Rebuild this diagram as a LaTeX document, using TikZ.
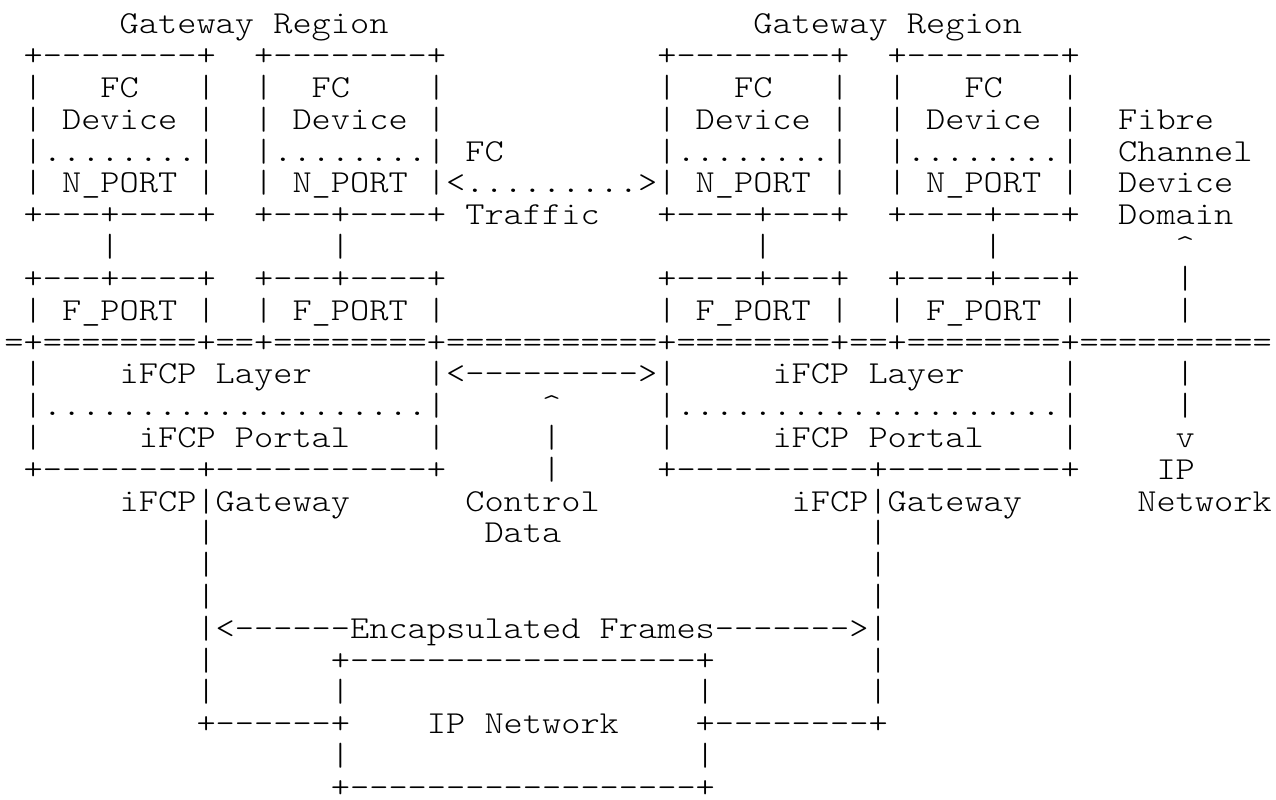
\documentclass[tikz,border=0pt]{standalone}
\usepackage{fontspec}
\setmonofont[FakeStretch=1.1429]{lmmonolt10-regular.otf}

\newcommand\artfont{\ttfamily\fontsize{16pt}{16pt}\selectfont}
\newcommand\artblank{\hphantom{x}}
\newcommand\artbar{\hbox to 0.6em{\hss\vrule width 0.9pt height 0.8em depth 0.24em\hss}}
\newcommand\defrow[2]{\expandafter\gdef\csname artrow#1\endcsname{#2}}

\begingroup
\catcode`\^=12 \catcode`\_=12 \catcode`\|=\active \obeyspaces%
\global\let =\artblank%
\global\let|=\artbar%
\defrow{1}{      Gateway Region                   Gateway Region}%
\defrow{2}{ +--------+  +--------+           +--------+  +--------+}%
\defrow{3}{ |   FC   |  |  FC    |           |   FC   |  |   FC   |}%
\defrow{4}{ | Device |  | Device |           | Device |  | Device |  Fibre}%
\defrow{5}{ |........|  |........| FC        |........|  |........|  Channel}%
\defrow{6}{ | N_PORT |  | N_PORT |<.........>| N_PORT |  | N_PORT |  Device}%
\defrow{7}{ +---+----+  +---+----+ Traffic   +----+---+  +----+---+  Domain}%
\defrow{8}{     |           |                     |           |         ^}%
\defrow{9}{ +---+----+  +---+----+           +----+---+  +----+---+     |}%
\defrow{10}{ | F_PORT |  | F_PORT |           | F_PORT |  | F_PORT |     |}%
\defrow{11}{=+========+==+========+===========+========+==+========+==========}%
\defrow{12}{ |    iFCP Layer      |<--------->|     iFCP Layer     |     |}%
\defrow{13}{ |....................|     ^     |....................|     |}%
\defrow{14}{ |     iFCP Portal    |     |     |     iFCP Portal    |     v}%
\defrow{15}{ +--------+-----------+     |     +----------+---------+    IP}%
\defrow{16}{      iFCP|Gateway      Control          iFCP|Gateway      Network}%
\defrow{17}{          |              Data                |}%
\defrow{18}{          |                                  |}%
\defrow{19}{          |                                  |}%
\defrow{20}{          |<------Encapsulated Frames------->|}%
\defrow{21}{          |      +------------------+        |}%
\defrow{22}{          |      |                  |        |}%
\defrow{23}{          +------+    IP Network    +--------+}%
\defrow{24}{                 |                  |}%
\defrow{25}{                 +------------------+}%
\endgroup

\begin{document}
\begin{tikzpicture}[x=9.6pt, y=-15.9pt,
  artline/.style={anchor=base west, inner sep=0pt, outer sep=0pt,
    text depth=0pt, font=\artfont}]
\useasboundingbox (-0.234,-1.069) rectangle (66.224,24.057);
\foreach \n in {1,...,25}
  \node[artline] (row\n) at (0,\n-1) {\csname artrow\n\endcsname};
\end{tikzpicture}
\end{document}
